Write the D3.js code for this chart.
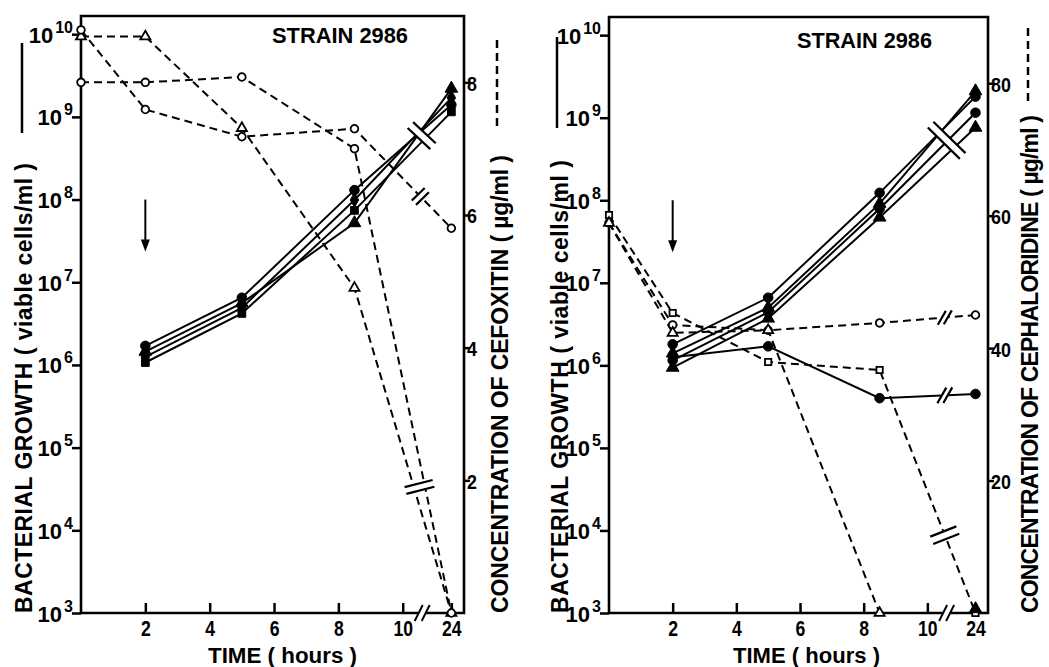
<!DOCTYPE html>
<html><head><meta charset="utf-8">
<script src="https://cdn.jsdelivr.net/npm/d3@7"></script>
<style>
html,body{margin:0;padding:0;background:#fff;}
svg{display:block;}
text{font-family:"Liberation Sans",Arial,sans-serif;font-weight:bold;fill:#000;}
</style></head><body>
<svg id="chart" width="1049" height="667"></svg>
<script>
// ---------------- data ----------------
const growthHours = [2, 5, 8.5, 24];
const concHours = [0, 2, 5, 8.5, 24];
const timeTicks = [2, 4, 6, 8, 10, 24];
const logTickExponents = [3, 4, 5, 6, 7, 8, 9, 10];
const cefoxitinTicks = [2, 4, 6, 8];
const cephaloridineTicks = [20, 40, 60, 80];

// Left panel: viable cells/ml (solid lines)
const cefGrowthCircle   = [1.7e6, 6.5e6, 1.3e8, 1.4e9];
const cefGrowthTriangle = [1.45e6, 5.6e6, 5.2e7, 2.2e9];
const cefGrowthSquare   = [1.07e6, 4.2e6, 7.4e7, 1.15e9];
const cefGrowthDiamond  = [1.25e6, 4.9e6, 9.9e7, 1.7e9];
// Left panel: cefoxitin concentration µg/ml (dashed lines)
const cefConcTriangle = [8.69, 8.69, 7.31, 4.9, 0];
const cefConcCircleA  = [8.79, 7.59, 7.18, 7.3, 5.8];
const cefConcCircleB  = [8.0, 8.0, 8.08, 7.0, 0];

// Right panel: viable cells/ml (solid lines)
const cephGrowthCircleA   = [1.8e6, 6.6e6, 1.23e8, 1.8e9];
const cephGrowthTriangleA = [1.4e6, 5.0e6, 9.1e7, 2.1e9];
const cephGrowthCircleB   = [1.15e6, 4.4e6, 7.9e7, 1.15e9];
const cephGrowthTriangleB = [9.4e5, 3.7e6, 6.2e7, 7.6e8];
const cephGrowthDeclining = [1.25e6, 1.7e6, 4.0e5, 4.5e5];
const cephGrowthBelowLimitHour = [24];
const cephGrowthBelowLimit = [1e3];
// Right panel: cephaloridine concentration µg/ml (dashed lines)
const cephConcSquare   = [60.1, 45.3, 37.9, 36.7, 0];
const cephConcCircle   = [58.9, 43.5, 42.7, 43.8, 45.0];
const cephConcTriangle = [58.9, 42.3, 42.7, 0];  // 0 – 8.5 h

// ---------------- drawing ----------------
const svg = d3.select('#chart');
const TILT = [0.5, -0.87];

const panels = [
  {
    box: {left: 81, top: 16, right: 464, bottom: 613},
    concMax: 9, concTicks: cefoxitinTicks,
    strain: {x: 272, y: 43, len: 136},
    time: {x: 282.5, y: 663, len: 149},
    leftTitle: {x: 32, len: 450, lineX: 22, y1: 43, y2: 133},
    rightTitle: {x: 508, len: 458, text: 'CONCENTRATION OF CEFOXITIN ( µg/ml )', lineX: 497, y1: 40, y2: 128},
    growth: [
      {id: 'g0', values: cefGrowthCircle, marker: 'circle'},
      {id: 'g1', values: cefGrowthTriangle, marker: 'triangle'},
      {id: 'g2', values: cefGrowthSquare, marker: 'square'},
      {id: 'g3', values: cefGrowthDiamond, marker: 'diamond'}
    ],
    conc: [
      {id: 'c0', values: cefConcTriangle, marker: 'triangle'},
      {id: 'c1', values: cefConcCircleA, marker: 'circle'},
      {id: 'c2', values: cefConcCircleB, marker: 'circle'}
    ],
    extra: [],
    breaks: [
      {ids: ['g0', 'g1', 'g2', 'g3'], margin: 11, gap: 8},
      {ids: ['c1'], margin: 9, gap: 6},
      {ids: ['c0', 'c2'], margin: 9, gap: 7}
    ]
  },
  {
    box: {left: 609, top: 17, right: 988, bottom: 613},
    concMax: 90, concTicks: cephaloridineTicks,
    strain: {x: 797, y: 48, len: 135},
    time: {x: 806.5, y: 663, len: 147},
    leftTitle: {x: 568, len: 453, lineX: 557, y1: 37, y2: 128},
    rightTitle: {x: 1038, len: 498, text: 'CONCENTRATION OF CEPHALORIDINE ( µg/ml )', lineX: 1028, y1: 28, y2: 102},
    growth: [
      {id: 'g0', values: cephGrowthCircleA, marker: 'circle'},
      {id: 'g1', values: cephGrowthTriangleA, marker: 'triangle'},
      {id: 'g2', values: cephGrowthCircleB, marker: 'circle'},
      {id: 'g3', values: cephGrowthTriangleB, marker: 'triangle'},
      {id: 'g4', values: cephGrowthDeclining, marker: ['square', 'circle', 'circle', 'circle']}
    ],
    conc: [
      {id: 'c0', values: cephConcSquare, marker: 'square'},
      {id: 'c1', values: cephConcCircle, marker: 'circle'},
      {id: 'c2', values: cephConcTriangle, marker: 'triangle'}
    ],
    extra: [{hours: cephGrowthBelowLimitHour, values: cephGrowthBelowLimit, marker: 'triangle'}],
    breaks: [
      {ids: ['g0', 'g1', 'g2', 'g3'], margin: 12, gap: 8},
      {ids: ['g4'], margin: 9, gap: 6, tilt: TILT},
      {ids: ['c1'], margin: 8, gap: 6, tilt: TILT},
      {ids: ['c0'], margin: 14, gap: 8}
    ]
  }
];

function narrow(sel, k) {
  sel.each(function () {
    const w = this.getComputedTextLength();
    if (w > 0) d3.select(this).attr('textLength', w * k).attr('lengthAdjust', 'spacingAndGlyphs');
  });
}

function drawMarker(g, type, cx, cy, filled) {
  const syms = {circle: d3.symbolCircle, triangle: d3.symbolTriangle, square: d3.symbolSquare, diamond: d3.symbolDiamond};
  const sizes = filled ? {circle: 72, triangle: 70, square: 60, diamond: 62} : {circle: 46, triangle: 44, square: 40, diamond: 44};
  g.append('path')
    .attr('d', d3.symbol(syms[type], sizes[type])())
    .attr('transform', `translate(${cx},${cy})`)
    .attr('fill', filled ? '#000' : '#fff')
    .attr('stroke', '#000')
    .attr('stroke-width', filled ? 1 : 1.8);
}

function drawBreak(g, segs, b) {
  const f = 0.68;
  let px = 0, py = 0, ux = 0, uy = 0;
  segs.forEach(([A, B]) => {
    px += A[0] + f * (B[0] - A[0]);
    py += A[1] + f * (B[1] - A[1]);
    const L = Math.hypot(B[0] - A[0], B[1] - A[1]);
    ux += (B[0] - A[0]) / L; uy += (B[1] - A[1]) / L;
  });
  px /= segs.length; py /= segs.length;
  let L = Math.hypot(ux, uy); ux /= L; uy /= L;
  let nx = -uy, ny = ux;
  if (b.tilt) { nx = b.tilt[0]; ny = b.tilt[1]; }
  L = Math.hypot(nx, ny); nx /= L; ny /= L;
  let rmin = Infinity, rmax = -Infinity;
  segs.forEach(([A, B]) => {
    const dx = B[0] - A[0], dy = B[1] - A[1];
    const det = -dx * ny + nx * dy;
    const r = (dx * (py - A[1]) - dy * (px - A[0])) / det;
    rmin = Math.min(rmin, r); rmax = Math.max(rmax, r);
  });
  rmin -= b.margin; rmax += b.margin;
  const h = b.gap / 2;
  const pt = (r, s) => [px + r * nx + s * ux, py + r * ny + s * uy];
  g.append('path')
    .attr('d', d3.line()([pt(rmin + 2, -h), pt(rmax - 2, -h), pt(rmax - 2, h), pt(rmin + 2, h)]) + 'Z')
    .attr('fill', '#fff').attr('stroke', 'none');
  [-h, h].forEach(s => {
    const a = pt(rmin, s), c = pt(rmax, s);
    g.append('line').attr('x1', a[0]).attr('y1', a[1]).attr('x2', c[0]).attr('y2', c[1])
      .attr('stroke', '#000').attr('stroke-width', 2.2);
  });
}

panels.forEach(p => {
  const g = svg.append('g');
  const {left, top, right, bottom} = p.box;
  const W = right - left;
  const x = d3.scaleLinear().domain([0, 10, 24]).range([left, left + W * 0.84, left + W * 0.967]);
  const y = d3.scaleLog().domain([1e3, Math.pow(10, 10.22)]).range([bottom, top]);
  const yc = d3.scaleLinear().domain([0, p.concMax]).range([bottom, top]);
  const xb = x(10) + 0.4 * (x(24) - x(10));

  // frame with axis break
  g.append('path')
    .attr('d', `M${xb - 4},${bottom}L${left},${bottom}L${left},${top}L${right},${top}L${right},${bottom}L${xb + 4},${bottom}`)
    .attr('fill', 'none').attr('stroke', '#000').attr('stroke-width', 2.6).attr('stroke-linejoin', 'miter');
  [-3.5, 3.5].forEach(o => {
    g.append('line').attr('x1', xb + o - 4).attr('y1', bottom + 8).attr('x2', xb + o + 4).attr('y2', bottom - 8)
      .attr('stroke', '#000').attr('stroke-width', 2);
  });

  // bottom axis
  const ax = g.append('g').attr('transform', `translate(0,${bottom})`)
    .call(d3.axisBottom(x).tickValues(timeTicks).tickSizeInner(-10).tickSizeOuter(0).tickFormat(d3.format('d')));
  ax.select('.domain').remove();
  ax.attr('font-family', null).attr('font-size', 22);
  ax.selectAll('.tick line').attr('stroke-width', 2.5);
  ax.selectAll('.tick text').attr('y', 23).attr('dy', null).call(narrow, 0.8);

  // left log axis (10 with superscript exponent, as two texts)
  const ay = g.append('g').attr('transform', `translate(${left},0)`)
    .call(d3.axisLeft(y).tickValues(logTickExponents.map(e => Math.pow(10, e))).tickSizeInner(9).tickSizeOuter(0).tickFormat(''));
  ay.select('.domain').remove();
  ay.attr('font-family', null);
  ay.selectAll('.tick line').attr('stroke-width', 2.5);
  ay.selectAll('.tick text').remove();
  ay.selectAll('.tick').each(function (d) {
    const t = d3.select(this);
    const ex = t.append('text').attr('x', -8).attr('y', -2).attr('text-anchor', 'end').attr('font-size', 16)
      .text(Math.round(Math.log10(d)));
    const ew = ex.node().getComputedTextLength();
    t.append('text').attr('x', -8 - ew - 2).attr('y', 8).attr('text-anchor', 'end').attr('font-size', 22).text('10');
  });

  // right concentration axis
  const ac = g.append('g').attr('transform', `translate(${right},0)`)
    .call(d3.axisRight(yc).tickValues(p.concTicks).tickSizeInner(6).tickSizeOuter(0).tickPadding(-3));
  ac.select('.domain').remove();
  ac.attr('font-family', null).attr('font-size', 21);
  ac.selectAll('.tick line').attr('stroke-width', 2.5);
  ac.selectAll('.tick text').attr('dy', '0.38em').call(narrow, 0.85);

  // titles
  g.append('text').attr('x', p.strain.x).attr('y', p.strain.y).attr('font-size', 22)
    .attr('textLength', p.strain.len).attr('lengthAdjust', 'spacingAndGlyphs').text('STRAIN 2986');
  g.append('text').attr('x', p.time.x - p.time.len / 2).attr('y', p.time.y).attr('font-size', 22)
    .attr('textLength', p.time.len).attr('lengthAdjust', 'spacingAndGlyphs').text('TIME ( hours )');
  g.append('text').attr('transform', `translate(${p.leftTitle.x},${bottom}) rotate(-90)`).attr('font-size', 23)
    .attr('textLength', p.leftTitle.len).attr('lengthAdjust', 'spacing').text('BACTERIAL GROWTH ( viable cells/ml )');
  g.append('line').attr('x1', p.leftTitle.lineX).attr('x2', p.leftTitle.lineX).attr('y1', p.leftTitle.y1).attr('y2', p.leftTitle.y2)
    .attr('stroke', '#000').attr('stroke-width', 2.5);
  g.append('text').attr('transform', `translate(${p.rightTitle.x},${bottom}) rotate(-90)`).attr('font-size', 23)
    .attr('textLength', p.rightTitle.len).attr('lengthAdjust', 'spacing').text(p.rightTitle.text);
  g.append('line').attr('x1', p.rightTitle.lineX).attr('x2', p.rightTitle.lineX).attr('y1', p.rightTitle.y1).attr('y2', p.rightTitle.y2)
    .attr('stroke', '#000').attr('stroke-width', 2.5).attr('stroke-dasharray', '8,5');

  // arrow at 2 h (drug addition)
  const axp = x(2), ay1 = y(1e8), ay2 = ay1 + 52;
  g.append('line').attr('x1', axp).attr('x2', axp).attr('y1', ay1).attr('y2', ay2 - 8).attr('stroke', '#000').attr('stroke-width', 2);
  g.append('path').attr('d', `M${axp - 4.5},${ay2 - 12}L${axp + 4.5},${ay2 - 12}L${axp},${ay2}Z`).attr('fill', '#000');

  // series
  const pix = {};
  const lineGen = d3.line();
  p.growth.forEach(s => {
    pix[s.id] = growthHours.map((h, i) => [x(h), y(s.values[i])]);
  });
  p.conc.forEach(s => {
    pix[s.id] = s.values.map((v, i) => [x(concHours[i]), yc(v)]);
  });
  p.growth.forEach(s => {
    g.append('path').attr('d', lineGen(pix[s.id])).attr('fill', 'none').attr('stroke', '#000').attr('stroke-width', 2);
  });
  p.conc.forEach(s => {
    g.append('path').attr('d', lineGen(pix[s.id])).attr('fill', 'none').attr('stroke', '#000')
      .attr('stroke-width', 2).attr('stroke-dasharray', '8,5');
  });

  // breaks on the 8.5 h -> 24 h segments
  p.breaks.forEach(b => {
    const segs = b.ids.map(id => { const a = pix[id]; return [a[a.length - 2], a[a.length - 1]]; });
    drawBreak(g, segs, b);
  });

  // markers
  p.conc.forEach(s => {
    pix[s.id].forEach((pt, i) => drawMarker(g, Array.isArray(s.marker) ? s.marker[i] : s.marker, pt[0], pt[1], false));
  });
  p.growth.forEach(s => {
    pix[s.id].forEach((pt, i) => drawMarker(g, Array.isArray(s.marker) ? s.marker[i] : s.marker, pt[0], pt[1], true));
  });
  p.extra.forEach(s => {
    s.hours.forEach((h, i) => drawMarker(g, s.marker, x(h), y(s.values[i]) - 4, true));
  });
});
</script>
</body></html>
